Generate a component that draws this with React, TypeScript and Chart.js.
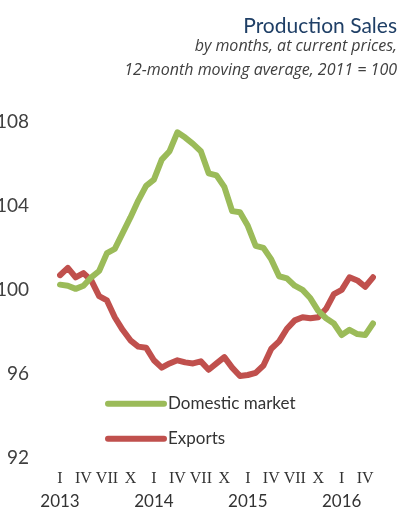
import React, { useEffect, useRef } from 'react';
import { Chart, registerables } from 'chart.js';

Chart.register(...registerables);

// Month tick labels (Roman numerals at quarter starts), Jan 2013 – May 2016
const monthLabels = [
  'I', '', '', 'IV', '', '', 'VII', '', '', 'X', '', '',
  'I', '', '', 'IV', '', '', 'VII', '', '', 'X', '', '',
  'I', '', '', 'IV', '', '', 'VII', '', '', 'X', '', '',
  'I', '', '', 'IV', '',
];

const yearLabels = [
  '2013', '', '', '', '', '', '', '', '', '', '', '',
  '2014', '', '', '', '', '', '', '', '', '', '', '',
  '2015', '', '', '', '', '', '', '', '', '', '', '',
  '2016', '', '', '', '',
];

const domesticMarket = [
  100.25, 100.2, 100.05, 100.2, 100.6, 100.9, 101.75, 101.95, 102.7, 103.45, 104.25, 104.95,
  105.25, 106.2, 106.6, 107.5, 107.25, 106.95, 106.6, 105.55, 105.45, 104.9, 103.75, 103.7,
  103.05, 102.1, 102.0, 101.45, 100.65, 100.55, 100.2, 100.0, 99.6, 99.0, 98.65, 98.4,
  97.85, 98.1, 97.9, 97.85, 98.4,
];

const exportsSeries = [
  100.7, 101.05, 100.6, 100.8, 100.45, 99.7, 99.5, 98.7, 98.1, 97.6, 97.3, 97.25,
  96.65, 96.3, 96.5, 96.65, 96.55, 96.5, 96.6, 96.2, 96.5, 96.8, 96.3, 95.9,
  95.95, 96.05, 96.4, 97.2, 97.55, 98.15, 98.55, 98.7, 98.65, 98.7, 99.1, 99.8,
  100.0, 100.6, 100.45, 100.15, 100.6,
];

const seriesNames = ['Domestic market', 'Exports'];
const titleText = 'Production Sales';
const subtitleLines = ['by months, at current prices,', '12-month moving average, 2011 = 100'];
const yMin = 92;
const yMax = 108;
const yStep = 4;

const SANS = '"Open Sans", "Noto Sans", sans-serif';
const NARROW = 'Lato, "Open Sans", sans-serif';
const SERIF = '"Liberation Serif", "DejaVu Serif", serif';
const GREEN = '#9BBB59';
const RED = '#C0504D';

export default function App() {
  const ref = useRef<HTMLCanvasElement>(null);

  useEffect(() => {
    if (!ref.current) return;

    const insideLegend = {
      id: 'insideLegend',
      afterDatasetsDraw(chart: any) {
        const { ctx, chartArea } = chart;
        const x0 = chartArea.left + 48;
        const x1 = x0 + 56;
        const rowsY = [chartArea.top + 282, chartArea.top + 317];
        ctx.save();
        chart.data.datasets.forEach((ds: any, i: number) => {
          const y = rowsY[i];
          ctx.beginPath();
          ctx.strokeStyle = ds.borderColor;
          ctx.lineWidth = 6;
          ctx.lineCap = 'round';
          ctx.moveTo(x0, y);
          ctx.lineTo(x1, y);
          ctx.stroke();
          ctx.fillStyle = '#333333';
          ctx.font = `17px ${NARROW}`;
          ctx.textBaseline = 'middle';
          ctx.textAlign = 'left';
          ctx.fillText(ds.label, x1 + 4, y);
        });
        ctx.restore();
      },
    };

    const chart = new Chart(ref.current, {
      type: 'line',
      data: {
        labels: monthLabels,
        datasets: [
          {
            label: seriesNames[0],
            data: domesticMarket,
            borderColor: GREEN,
            backgroundColor: GREEN,
            borderWidth: 6,
            pointRadius: 0,
            tension: 0,
            borderJoinStyle: 'round',
            borderCapStyle: 'round',
            fill: false,
          },
          {
            label: seriesNames[1],
            data: exportsSeries,
            borderColor: RED,
            backgroundColor: RED,
            borderWidth: 6,
            pointRadius: 0,
            tension: 0,
            borderJoinStyle: 'round',
            borderCapStyle: 'round',
            fill: false,
          },
        ],
      },
      options: {
        animation: false,
        responsive: false,
        layout: { padding: { top: 0, right: 5, bottom: 0, left: 0 } },
        plugins: {
          legend: { display: false },
          tooltip: { enabled: false },
          title: {
            display: true,
            text: titleText,
            align: 'end',
            color: '#1F3F66',
            font: { family: NARROW, size: 21, weight: 'normal', lineHeight: 0.8 },
            padding: { top: 18, bottom: 0 },
          },
          subtitle: {
            display: true,
            text: subtitleLines,
            align: 'end',
            color: '#404040',
            font: { family: SANS, size: 16, style: 'italic', weight: 'normal', lineHeight: 1.5 },
            padding: { top: 0, bottom: 39 },
          },
        },
        scales: {
          x: {
            type: 'category',
            position: 'bottom',
            weight: 1,
            grid: { display: false },
            border: { display: false },
            ticks: {
              autoSkip: false,
              maxRotation: 0,
              minRotation: 0,
              padding: 3,
              color: '#333333',
              font: { family: SERIF, size: 16 },
            },
            afterFit: (s: any) => { s.height = 30; },
          },
          x2: {
            type: 'category',
            labels: yearLabels,
            position: 'bottom',
            weight: 2,
            grid: { display: false, drawTicks: false },
            border: { display: false },
            ticks: {
              autoSkip: false,
              maxRotation: 0,
              minRotation: 0,
              padding: 3,
              color: '#333333',
              font: { family: NARROW, size: 17 },
            },
            afterFit: (s: any) => { s.height = 21; },
          },
          y: {
            min: yMin,
            max: yMax,
            grid: { display: false },
            border: { display: false },
            ticks: {
              stepSize: yStep,
              padding: 23,
              color: '#404040',
              font: { family: NARROW, size: 19 },
            },
            afterFit: (s: any) => { s.width = 60; },
          },
          yR: {
            position: 'right',
            display: true,
            grid: { display: false },
            border: { display: false },
            ticks: { display: false },
            afterFit: (s: any) => { s.width = 24; },
          },
        },
      },
      plugins: [insideLegend],
    } as any);

    return () => chart.destroy();
  }, []);

  return (
    <div style={{ position: 'fixed', left: 0, top: 0, width: 402, height: 509, background: '#ffffff' }}>
      <canvas ref={ref} width={402} height={509} style={{ display: 'block' }} />
    </div>
  );
}
